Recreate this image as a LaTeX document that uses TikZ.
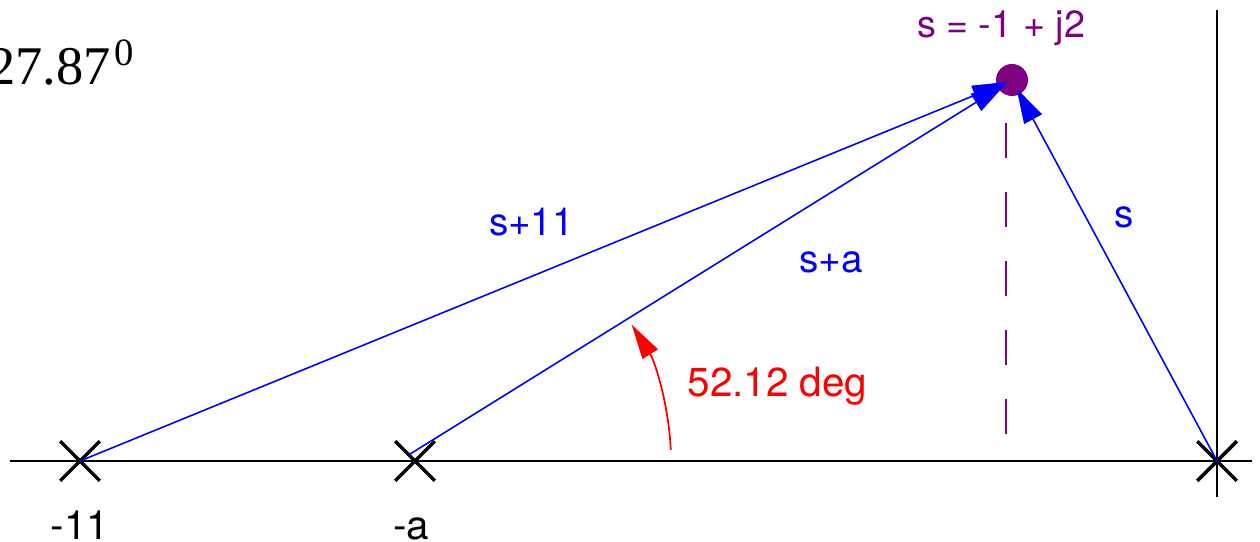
\documentclass[tikz,border=0pt]{standalone}
\usepackage{fontspec}
\setmainfont{TeX Gyre Heros}
\newfontfamily\timesfont{Liberation Serif}
\definecolor{ptpurple}{RGB}{128, 0, 128}
\definecolor{vecblue}{RGB}{0, 0, 255}
\definecolor{angred}{RGB}{255, 0, 0}
\usetikzlibrary{shapes.misc, arrows.meta, calc}

\begin{document}
\begin{tikzpicture}[
  pole/.style={draw, cross out, line width=2pt, minimum size=0.72cm, inner sep=0pt},
  vec/.style={draw=vecblue, line width=0.9pt, -{Triangle[length=0.7cm, width=0.4cm]}},
  lbl/.style={font=\fontsize{22}{26}\selectfont}
]
  \useasboundingbox (0,0) rectangle (25.2,10.82);

  % axes
  \draw[line width=1pt] (0.2,1.6) -- (25.04,1.6);
  \draw[line width=1pt] (24.34,0.88) -- (24.34,10.62);

  % poles
  \node[pole] (p11) at (1.6,1.6) {};
  \node[pole] (pa) at (8.3,1.6) {};
  \node[pole] (p0) at (24.34,1.6) {};
  \node[lbl, anchor=base, font=\fontsize{23}{27}\selectfont] at (1.6,0.04) {-11};
  \node[lbl, anchor=base, font=\fontsize{23}{27}\selectfont] at (8.22,0.04) {-a};

  % test point
  \node[circle, fill=ptpurple, minimum size=0.64cm, inner sep=0pt] (sp) at (20.24,9.22) {};
  \node[lbl, text=ptpurple, font=\fontsize{21.5}{25}\selectfont] at (20.02,10.26) {s = -1 + j2};
  \draw[ptpurple, line width=1pt, dash pattern=on 0.7cm off 0.68cm] (20.12,8.36) -- (20.12,2.1);

  % vectors
  \coordinate (sa0) at (8.17,1.72);
  \draw[vec, shorten >=0.1cm] (p11.center) -- (sp.center);
  \draw[vec, shorten >=0.15cm] (sa0) -- (sp.center);
  \draw[vec, shorten >=0.19cm] (p0.center) -- (sp.center);
  \node[lbl, text=vecblue] at (10.63,6.38) {s+11};
  \node[lbl, text=vecblue] at (16.62,5.58) {s+a};
  \node[lbl, text=vecblue] at (22.48,6.48) {s};

  % angle
  \draw[angred, line width=1pt, -{Triangle[length=0.7cm, width=0.36cm]}]
    ($(pa.center)+(2.5:5.12)$) arc[start angle=2.5, end angle=32.2, radius=5.12];
  \node[lbl, text=angred, font=\fontsize{23}{27}\selectfont] at (15.55,3.1) {52.12 deg};

  \node[anchor=base east, inner sep=0pt, font=\timesfont\fontsize{31}{35}\selectfont] at (2.68,9.12)
    {27.87\kern2pt\raisebox{11pt}{\fontsize{22}{26}\selectfont 0}};
\end{tikzpicture}
\end{document}
